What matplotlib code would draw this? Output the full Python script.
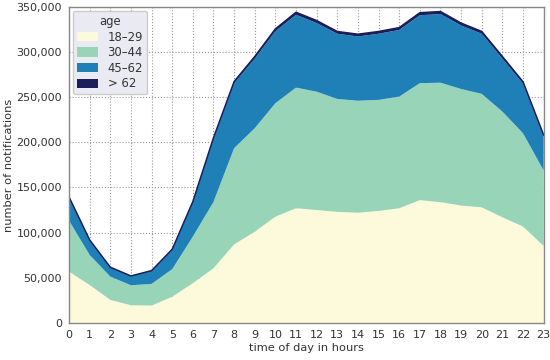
import matplotlib
matplotlib.use("Agg")
import matplotlib.pyplot as plt
from matplotlib.ticker import FuncFormatter
import numpy as np

hours = list(range(24))
age_18_29 = [56.8, 42.0, 25.5, 19.6, 19.2, 29.0, 44.0, 60.6, 87.0, 101.0, 117.7, 127.0,
             125.0, 123.0, 122.0, 124.0, 127.0, 136.0, 133.7, 130.0, 128.0, 117.0, 106.7, 85.3]
age_30_44 = [56.5, 33.3, 25.8, 22.1, 24.0, 30.5, 51.6, 73.4, 106.5, 114.6, 125.6, 133.6,
             131.0, 125.0, 124.0, 123.0, 123.6, 129.5, 132.3, 129.0, 125.6, 117.0, 103.3, 83.4]
age_45_62 = [25.2, 16.0, 10.0, 10.0, 14.3, 21.5, 37.8, 69.5, 71.8, 77.1, 79.7, 80.6,
             76.1, 72.2, 71.2, 73.2, 73.8, 75.2, 76.0, 70.4, 66.6, 58.7, 55.0, 37.8]
age_over_62 = [1.0, 0.6, 0.4, 0.3, 0.4, 0.6, 1.0, 1.5, 2.0, 2.3, 2.6, 2.8,
               2.7, 2.5, 2.5, 2.5, 2.6, 2.8, 2.8, 2.6, 2.5, 2.3, 2.0, 1.5]
labels = ["18\u201329", "30\u201344", "45\u201362", "> 62"]
colors = ["#fcfadb", "#97d4b8", "#1f80b8", "#1a1f5c"]

series = [np.array(s) * 1000 for s in (age_18_29, age_30_44, age_45_62, age_over_62)]

fig = plt.figure(figsize=(5.5, 3.6), dpi=100)
ax = fig.add_axes([0.1255, 0.103, 0.863, 0.878])
ax.set_axisbelow(True)
ax.grid(True, linestyle=":", color="#999999", linewidth=0.8, zorder=0)
ax.stackplot(hours, *series, labels=labels, colors=colors, linewidth=0, zorder=2)
total = np.sum(series, axis=0)
ax.plot(hours, total, color="#1a1f5c", linewidth=1.1, zorder=3)

ax.set_xlim(0, 23)
ax.set_ylim(0, 350000)
ax.set_xticks(hours)
ax.set_yticks(np.arange(0, 350001, 50000))
ax.yaxis.set_major_formatter(FuncFormatter(lambda v, p: f"{int(v):,}"))
for s in ax.spines.values():
    s.set_color("#888888")
    s.set_linewidth(1.0)
    s.set_zorder(4)
ax.tick_params(length=0, labelsize=8, colors="#333333", pad=5)
ax.set_xlabel("time of day in hours", fontsize=8.2, color="#333333", labelpad=2)
ax.set_ylabel("number of notifications", fontsize=8.2, color="#333333", labelpad=2)

leg = ax.legend(title="age", loc="upper left", fontsize=8.4, title_fontsize=8.4,
                frameon=True, fancybox=True, handlelength=1.8, handleheight=0.85,
                handletextpad=0.8, borderpad=0.35, labelspacing=0.22, borderaxespad=0.35)
leg.get_frame().set_facecolor("#eaeaf2")
leg.get_frame().set_edgecolor("#cccccc")
leg.get_frame().set_alpha(1.0)
leg.set_zorder(5)
for t in leg.get_texts():
    t.set_color("#333333")
leg.get_title().set_color("#333333")

fig.savefig("out.png", dpi=100)
